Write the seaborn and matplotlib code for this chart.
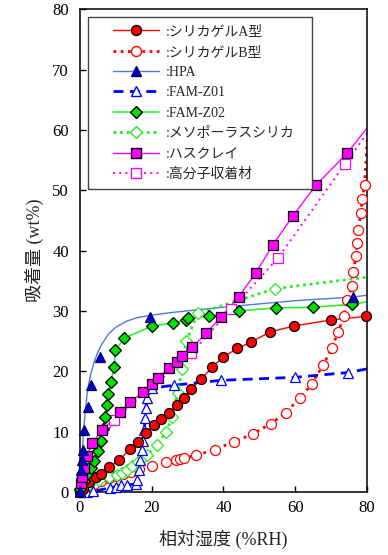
import numpy as np
import pandas as pd
import seaborn as sns
import matplotlib
matplotlib.use("Agg")
import matplotlib.pyplot as plt
from matplotlib.lines import Line2D
from matplotlib.legend_handler import HandlerLine2D

# ---- water-vapour adsorption isotherms: RH (%) vs uptake (wt%) ----
# Silica gel type A
sgA_rh = [0, 0.8, 2.5, 4.5, 5.9, 8.1, 10.9, 14.0, 16.2, 18.5, 20.7, 22.7, 24.9, 27.1,
          29.1, 31.0, 33.8, 36.9, 40.0, 43.9, 47.6, 52.9, 59.6, 69.9, 79.7]
sgA_wt = [0, 0.5, 1.7, 2.5, 3.0, 4.1, 5.3, 7.1, 8.3, 9.8, 11.1, 12.1, 13.1, 14.4,
          15.6, 17.1, 18.7, 20.7, 22.4, 23.8, 24.8, 26.5, 27.5, 28.5, 29.1]

# Silica gel type B
sgB_rh = [0, 2, 4, 6, 8, 10, 12, 14.3, 16.5, 20.1, 24.1, 26.9, 28.0, 29.1, 32.4, 37.5,
          42.8, 48.1, 53.1, 57.3, 61.3, 64.6, 67.7, 70.2, 71.9, 73.6, 74.4, 75.8,
          76.1, 76.9, 77.2, 77.5, 78.3, 78.6, 79.3]
sgB_wt = [0, 0.7, 1.3, 1.8, 2.3, 2.7, 3.0, 3.3, 3.8, 4.3, 5.0, 5.3, 5.5, 5.6, 6.1, 7.0,
          8.3, 9.6, 11.3, 13.1, 15.6, 17.9, 21.0, 23.8, 26.5, 29.1, 31.8, 34.1,
          36.4, 39.1, 41.2, 43.4, 46.2, 48.5, 50.9]
sgB_tail_rh = [79.3, 80.2]
sgB_tail_wt = [50.9, 60.0]

# HPA: measured points and fitted curve
hpa_rh = [0, 0.3, 0.6, 0.8, 1.1, 2.2, 3.1, 5.6, 19.6, 76.1]
hpa_wt = [0.2, 3.6, 5.3, 7.0, 10.3, 14.1, 17.7, 22.4, 29.0, 32.3]
hpa_fit_rh = [0, 0.5, 1, 1.5, 2, 2.5, 3, 4, 5, 6, 8, 10, 13, 16, 20, 25, 33, 45,
              60, 76, 80]
hpa_fit_wt = [0, 5.0, 10.0, 13.5, 16.2, 18.0, 19.5, 21.6, 23.2, 24.4, 26.2, 27.3,
              28.3, 28.9, 29.3, 29.7, 30.2, 30.9, 31.7, 32.3, 32.6]

# FAM-Z01
z01_rh = [0, 2, 3.6, 8.5, 10.0, 11.5, 13.0, 15.5, 16.0, 16.4, 16.8, 17.3, 17.6,
          17.9, 18.2, 18.4, 18.6, 20.0, 26.3, 39.2, 59.9, 74.7]
z01_wt = [0, 0, 0.1, 0.7, 0.9, 1.1, 1.2, 1.3, 2.0, 3.6, 5.3, 7.0, 8.5, 10.3, 12.2,
          14.0, 15.5, 17.2, 17.7, 18.5, 19.0, 19.8]
z01_tail_rh = [74.7, 80]
z01_tail_wt = [19.8, 20.4]

# FAM-Z02
z02_rh = [0, 1.0, 2.0, 3.2, 4.0, 4.9, 5.8, 6.5, 7.1, 7.6, 7.9, 8.6, 9.5, 9.9, 12.4,
          20.1, 26.0, 29.6, 30.2, 36.1, 44.2, 54.5, 64.9, 75.8]
z02_wt = [0.5, 1.9, 3.0, 4.0, 5.2, 6.8, 8.5, 10.4, 12.4, 14.4, 16.2, 18.2, 20.7,
          23.5, 25.5, 27.5, 28.0, 28.5, 28.8, 29.1, 30.0, 30.5, 30.6, 31.1]
z02_tail_rh = [75.8, 80]
z02_tail_wt = [31.1, 31.5]

# Mesoporous silica
meso_rh = [0, 2.5, 5.3, 8.1, 10.3, 11.7, 13.1, 14.5, 16.2, 17.6, 18.7, 21.5, 24.1,
           25.6, 27.2, 28.5, 29.6, 32.8, 54.4]
meso_wt = [0.3, 1.3, 2.0, 2.5, 2.8, 3.1, 3.6, 4.3, 5.0, 5.8, 6.1, 7.8, 9.9, 12.5,
           16.4, 20.4, 25.0, 29.6, 33.7]
meso_tail_rh = [54.4, 80]
meso_tail_wt = [33.7, 35.6]

# Halloysite-type clay
clay_rh = [0.3, 0.6, 1.1, 2.0, 3.4, 6.2, 11.2, 14.0, 17.5, 20.0, 21.8, 24.7, 27.0,
           28.5, 31.3, 35.2, 39.3, 44.2, 49.0, 53.7, 59.3, 65.7, 74.4]
clay_wt = [1.5, 2.5, 4.0, 6.0, 8.1, 10.3, 13.2, 14.9, 16.5, 17.9, 18.9, 20.5, 21.6,
           22.5, 24.0, 26.3, 29.0, 32.3, 36.3, 40.9, 45.7, 50.8, 56.1]
clay_tail_rh = [74.4, 80]
clay_tail_wt = [56.1, 60.3]

# Polymer sorbent
poly_rh = [0.6, 9.5, 31.0, 42.2, 55.1, 73.8]
poly_wt = [1.3, 12.0, 23.0, 30.3, 38.7, 54.3]
poly_tail_rh = [73.8, 80]
poly_tail_wt = [54.3, 59.4]

labels = [":シリカゲルA型", ":シリカゲルB型", ":HPA", ":FAM-Z01", ":FAM-Z02",
          ":メソポーラスシリカ", ":ハスクレイ", ":高分子収着材"]

x_ticks = [0, 20, 40, 60, 80]
y_ticks = [0, 10, 20, 30, 40, 50, 60, 70, 80]

FONT = ["Liberation Serif", "Noto Sans CJK JP"]

sns.set_theme(style="ticks")
plt.rcParams["font.family"] = FONT
plt.rcParams["axes.linewidth"] = 1.1

fig = plt.figure(figsize=(3.88, 5.55), dpi=100)
ax = fig.add_axes([0.206, 0.1135, 0.740, 0.870])

RED = "#ff0000"
BLUE_L = "#4d79e6"
BLUE_D = "#0000cc"
BLUE = "#0000ff"
GREEN = "#22ee22"
GREEN_F = "#00dd00"
MAG = "#ff00ff"

MS = 7.2


def line(x, y, **kw):
    sns.lineplot(x=x, y=y, sort=False, estimator=None, ax=ax, legend=False, **kw)


def marks(x, y, marker, face, edge, size=MS, mew=0.9, z=3):
    ax.plot(x, y, linestyle="none", marker=marker, markersize=size,
            markerfacecolor=face, markeredgecolor=edge, markeredgewidth=mew,
            zorder=z, clip_on=False)


# lines
dot_red = (0, (1.0, 1.6))
line(sgA_rh, sgA_wt, color=RED, linewidth=1.0, zorder=2)
line(sgB_rh + sgB_tail_rh[1:], sgB_wt + sgB_tail_wt[1:], color=RED, linewidth=2.0,
     linestyle=dot_red, zorder=2)
line(hpa_fit_rh, hpa_fit_wt, color=BLUE_L, linewidth=1.0, zorder=2)
line(z01_rh + z01_tail_rh[1:], z01_wt + z01_tail_wt[1:], color=BLUE, linewidth=2.0,
     linestyle=(0, (3.6, 2.3)), zorder=2)
line(z02_rh + z02_tail_rh[1:], z02_wt + z02_tail_wt[1:], color=GREEN, linewidth=1.1,
     zorder=2)
line(meso_rh + meso_tail_rh[1:], meso_wt + meso_tail_wt[1:], color=GREEN,
     linewidth=2.0, linestyle=(0, (1.0, 1.4)), zorder=2)
line(clay_rh + clay_tail_rh[1:], clay_wt + clay_tail_wt[1:], color=MAG, linewidth=1.0,
     zorder=2)
line(poly_rh + poly_tail_rh[1:], poly_wt + poly_tail_wt[1:], color=MAG, linewidth=1.4,
     linestyle=(0, (1.0, 2.2)), zorder=2)

# markers
marks(sgB_rh, sgB_wt, "o", "white", RED, mew=0.9)
marks(meso_rh, meso_wt, "D", "white", GREEN, size=6.0)
marks(poly_rh, poly_wt, "s", "white", MAG, size=7.0)
marks(z01_rh, z01_wt, "^", "white", BLUE, size=7.5)
marks(sgA_rh, sgA_wt, "o", RED, "black")
marks(z02_rh, z02_wt, "D", GREEN_F, "black", size=6.0)
marks(clay_rh, clay_wt, "s", MAG, "black", size=7.0)
marks(hpa_rh, hpa_wt, "^", BLUE_D, "#000066", size=7.5)

ax.set_xlim(0, 80)
ax.set_ylim(0, 80)
ax.set_xticks(x_ticks)
ax.set_yticks(y_ticks)
ax.tick_params(axis="both", direction="in", length=4, width=1.0, labelsize=12,
               pad=6, top=False, right=False, colors="black")
ax.tick_params(axis="y", pad=8)
for s in ax.spines.values():
    s.set_visible(True)
    s.set_color("black")
    s.set_linewidth(1.1)
for t in ax.get_xticklabels() + ax.get_yticklabels():
    t.set_family(FONT)

ax.set_xlabel("相対湿度 (%RH)", fontsize=13, family=FONT, labelpad=10)
ax.set_ylabel("吸着量 (wt%)", fontsize=13, family=FONT, labelpad=6)

# legend
handles = [
    Line2D([], [], color=RED, lw=1.0, marker="o", ms=MS, mfc=RED, mec="black"),
    Line2D([], [], color=RED, lw=2.0, ls=dot_red, marker="o", ms=MS, mfc="white", mec=RED),
    Line2D([], [], color=BLUE_L, lw=1.0, marker="^", ms=7.5, mfc=BLUE_D, mec="#000066"),
    Line2D([], [], color=BLUE, lw=2.0, ls=(0, (3.6, 2.3)), marker="^", ms=7.5, mfc="white", mec=BLUE),
    Line2D([], [], color=GREEN, lw=1.1, marker="D", ms=6.0, mfc=GREEN_F, mec="black"),
    Line2D([], [], color=GREEN, lw=2.0, ls=(0, (1.0, 1.4)), marker="D", ms=6.0, mfc="white", mec=GREEN),
    Line2D([], [], color=MAG, lw=1.0, marker="s", ms=7.0, mfc=MAG, mec="black"),
    Line2D([], [], color=MAG, lw=1.4, ls=(0, (1.0, 2.2)), marker="s", ms=7.0, mfc="white", mec=MAG),
]
LEG_FS = 10
handler = HandlerLine2D(xpad=1.2)
leg = ax.legend(handles, labels, loc="upper left",
                bbox_to_anchor=(0.028, 0.5, 0.780, 0.484), mode="expand",
                borderaxespad=0, frameon=True, fancybox=False, framealpha=1,
                edgecolor="#444444", handlelength=4.5, handletextpad=0.5,
                labelspacing=0.53, borderpad=0.6,
                handler_map={Line2D: handler},
                prop={"family": FONT, "size": LEG_FS})
leg.get_frame().set_linewidth(1.0)
leg.set_zorder(5)

fig.savefig("out.png", dpi=100)
